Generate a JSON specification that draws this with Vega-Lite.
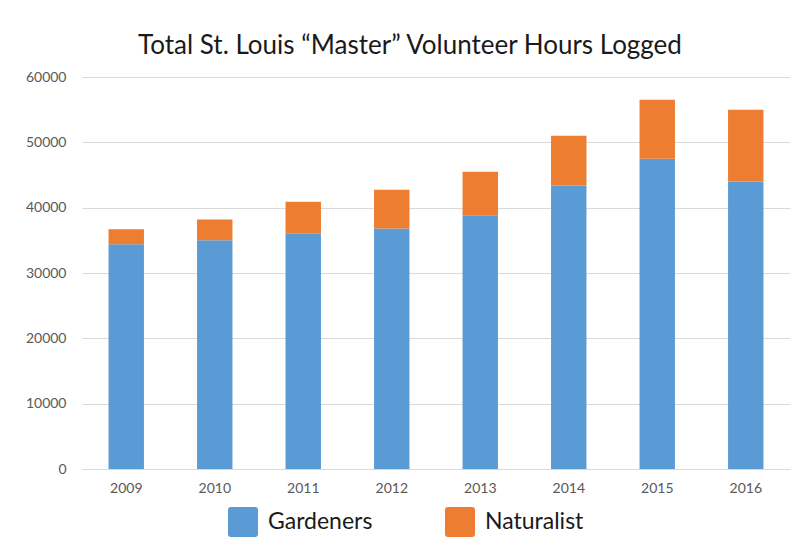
{
  "$schema": "https://vega.github.io/schema/vega-lite/v6.json",
  "autosize": "none",
  "width": 708,
  "height": 392,
  "padding": {"left": 82, "top": 77, "right": 18, "bottom": 79},
  "background": "white",
  "title": {
    "text": "Total St. Louis “Master” Volunteer Hours Logged",
    "font": "Lato",
    "fontSize": 26,
    "fontWeight": "normal",
    "color": "#1a1a1a",
    "anchor": "middle",
    "dx": -26,
    "offset": 11
  },
  "data": {
    "values": [
      {"year": "2009", "group": "Gardeners", "hours": 34400},
      {"year": "2009", "group": "Naturalist", "hours": 2300},
      {"year": "2010", "group": "Gardeners", "hours": 35000},
      {"year": "2010", "group": "Naturalist", "hours": 3200},
      {"year": "2011", "group": "Gardeners", "hours": 36000},
      {"year": "2011", "group": "Naturalist", "hours": 4900},
      {"year": "2012", "group": "Gardeners", "hours": 36800},
      {"year": "2012", "group": "Naturalist", "hours": 5950},
      {"year": "2013", "group": "Gardeners", "hours": 38750},
      {"year": "2013", "group": "Naturalist", "hours": 6750},
      {"year": "2014", "group": "Gardeners", "hours": 43400},
      {"year": "2014", "group": "Naturalist", "hours": 7600},
      {"year": "2015", "group": "Gardeners", "hours": 47500},
      {"year": "2015", "group": "Naturalist", "hours": 9000},
      {"year": "2016", "group": "Gardeners", "hours": 44000},
      {"year": "2016", "group": "Naturalist", "hours": 11000}
    ]
  },
  "mark": {"type": "bar"},
  "encoding": {
    "x": {
      "field": "year",
      "type": "nominal",
      "scale": {"paddingInner": 0.6, "paddingOuter": 0.3},
      "axis": {
        "title": null,
        "labelAngle": 0,
        "ticks": false,
        "domainColor": "#d9d9d9",
        "labelColor": "#595959",
        "labelFont": "Lato",
        "labelFontSize": 14,
        "labelPadding": 12
      }
    },
    "y": {
      "field": "hours",
      "type": "quantitative",
      "stack": "zero",
      "scale": {"domain": [0, 60000]},
      "axis": {
        "title": null,
        "values": [0, 10000, 20000, 30000, 40000, 50000, 60000],
        "format": "d",
        "ticks": false,
        "domain": false,
        "gridColor": "#d9d9d9",
        "labelColor": "#595959",
        "labelFont": "Lato",
        "labelFontSize": 14,
        "labelPadding": 16
      }
    },
    "order": {"field": "group", "sort": "ascending"},
    "color": {
      "field": "group",
      "type": "nominal",
      "scale": {"domain": ["Gardeners", "Naturalist"], "range": ["#5b9bd5", "#ed7d31"]},
      "legend": {
        "title": null,
        "orient": "none",
        "legendX": 146,
        "legendY": 430,
        "direction": "horizontal",
        "symbolType": "M -0.8 -1 L 0.8 -1 Q 1 -1 1 -0.8 L 1 0.8 Q 1 1 0.8 1 L -0.8 1 Q -1 1 -1 0.8 L -1 -0.8 Q -1 -1 -0.8 -1 Z",
        "symbolSize": 900,
        "symbolStrokeWidth": 0,
        "labelFont": "Lato",
        "labelFontSize": 23,
        "labelColor": "#1a1a1a",
        "labelOffset": 10,
        "columnPadding": 72
      }
    }
  },
  "config": {"view": {"stroke": null}}
}
